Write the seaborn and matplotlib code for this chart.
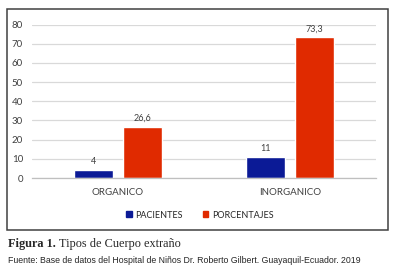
import matplotlib
matplotlib.use('Agg')
import matplotlib.pyplot as plt
import seaborn as sns
import pandas as pd
from matplotlib.patches import Rectangle

categorias = ['ORGANICO', 'INORGANICO']
pacientes = [4, 11]
porcentajes = [26.6, 73.3]
series = ['PACIENTES', 'PORCENTAJES']
colores = ['#0b1a96', '#e02a00']

df = pd.DataFrame({
    'tipo': categorias * 2,
    'valor': pacientes + porcentajes,
    'serie': [series[0]] * 2 + [series[1]] * 2,
})

sns.set_style('white')
plt.rcParams['font.family'] = ['Lato', 'DejaVu Sans']

fig = plt.figure(figsize=(3.98, 2.69), dpi=100)
ax = fig.add_axes([32 / 398, 1 - 178 / 269, 344 / 398, (178 - 24.5) / 269])

sns.barplot(data=df, x='tipo', y='valor', hue='serie', palette=colores,
            width=0.57, gap=0.2, ax=ax, legend=True, saturation=1)

ax.set_ylim(0, 80)
ax.set_yticks(range(0, 81, 10))
ax.set_xlabel('')
ax.set_ylabel('')
ax.grid(axis='y', color='#d9d9d9', linewidth=0.9)
ax.set_axisbelow(True)
for s in ['left', 'right', 'top']:
    ax.spines[s].set_visible(False)
ax.spines['bottom'].set_color('#bfbfbf')
ax.spines['bottom'].set_linewidth(0.9)
ax.tick_params(axis='both', length=0, labelsize=7, colors='#404040')
ax.tick_params(axis='x', pad=7)
ax.tick_params(axis='y', pad=6.5)

for cont in ax.containers:
    etiquetas = [f'{v:g}'.replace('.', ',') for v in cont.datavalues]
    ax.bar_label(cont, labels=etiquetas, fontsize=6.5, color='#404040', padding=3)

ax.get_legend().remove()
handles = [Rectangle((0, 0), 1, 1, color=c) for c in colores]
fig.legend(handles, series, loc='center', bbox_to_anchor=(200 / 398, 1 - 215 / 269),
           ncol=2, frameon=False, fontsize=6.5, handlelength=0.6, handleheight=0.6,
           handletextpad=0.4, columnspacing=2.2, labelcolor='#262626')

# marco del grafico
fig.patches.append(Rectangle((7 / 398, 1 - 230 / 269), 381 / 398, 221 / 269,
                             transform=fig.transFigure, fill=False,
                             edgecolor='#404040', linewidth=1.1))

t1 = fig.text(8 / 398, 1 - 247 / 269, 'Figura 1.', fontsize=8.8, fontweight='bold',
              family=['Liberation Serif'], va='baseline')
fig.canvas.draw()
bb = t1.get_window_extent()
fig.text(bb.x1 / fig.bbox.width + 3 / 398, 1 - 247 / 269, 'Tipos de Cuerpo extraño',
         fontsize=8.8, family=['Liberation Serif'], va='baseline')
fig.text(8 / 398, 1 - 263 / 269,
         'Fuente: Base de datos del Hospital de Niños Dr. Roberto Gilbert. Guayaquil-Ecuador. 2019',
         fontsize=6.3, family=['Liberation Sans'], va='baseline')

fig.savefig('out.png', dpi=100)
